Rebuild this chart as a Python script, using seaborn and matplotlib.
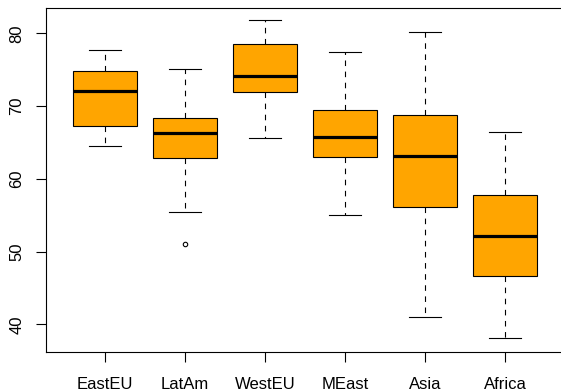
import matplotlib
matplotlib.use("Agg")
import matplotlib.pyplot as plt
import seaborn as sns
import pandas as pd

# ---- data ----
regions = ["EastEU", "LatAm", "WestEU", "MEast", "Asia", "Africa"]
whisker_low = [64.5, 55.4, 65.6, 55.0, 41.0, 38.1]
q1 = [67.2, 62.8, 72.0, 63.0, 56.1, 46.6]
median = [72.1, 66.3, 74.1, 65.8, 63.1, 52.2]
q3 = [74.8, 68.4, 78.6, 69.4, 68.8, 57.8]
whisker_high = [77.7, 75.1, 81.8, 77.4, 80.2, 66.4]
low_outliers = {"LatAm": [51.0]}
y_ticks = [40, 50, 60, 70, 80]

# Build a long table whose quartiles / whiskers reproduce the summary above
rows = []
for i, r in enumerate(regions):
    vals = [whisker_low[i], q1[i], q1[i], median[i], q3[i], q3[i], whisker_high[i]]
    for o in low_outliers.get(r, []):
        vals = [o] + vals + [whisker_high[i]]
    rows += [(r, v) for v in vals]
df = pd.DataFrame(rows, columns=["region", "value"])

plt.rcParams["font.family"] = ["Liberation Sans", "DejaVu Sans"]

fig = plt.figure(figsize=(5.61, 3.92), dpi=100)
ax = fig.add_axes([45.7 / 561, 40.3 / 392, 518.7 / 561, 344.2 / 392])

sns.boxplot(
    data=df, x="region", y="value", order=regions, ax=ax,
    color="#FFA500", saturation=1, width=0.8, linecolor="black",
    linewidth=0.8, whis=1.5,
    medianprops=dict(linewidth=2.3, color="black"),
    whiskerprops=dict(linestyle=(0, (5, 5)), linewidth=0.8, color="black"),
    capprops=dict(linewidth=0.8, color="black"),
    flierprops=dict(marker="o", markersize=3.2, markerfacecolor="none",
                    markeredgecolor="black", markeredgewidth=0.8),
)

ax.set_xlim(-0.74, 5.74)
ax.set_ylim(36.25, 83.55)
ax.set_yticks(y_ticks)
ax.set_yticklabels([str(t) for t in y_ticks], rotation=90, va="center")
ax.set_xlabel("")
ax.set_ylabel("")
for s in ax.spines.values():
    s.set_color("black")
    s.set_linewidth(0.8)
ax.tick_params(axis="both", direction="out", length=7.5, width=0.8,
               labelsize=12, colors="black")
ax.tick_params(axis="x", pad=11)
ax.tick_params(axis="y", pad=8)
ax.grid(False)

fig.savefig("out.png", dpi=100)
